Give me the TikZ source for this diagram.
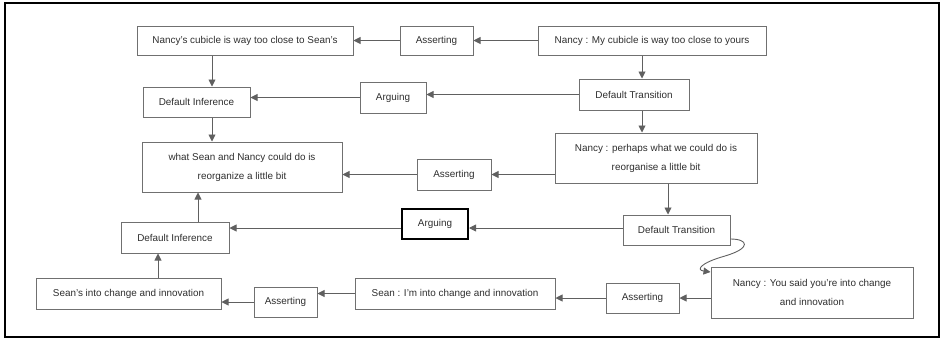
\documentclass[tikz,border=0pt]{standalone}
\usepackage{fontspec}
\setmainfont{Liberation Sans}
\usetikzlibrary{arrows.meta}
\definecolor{boxc}{HTML}{707070}
\definecolor{linec}{HTML}{606060}
\definecolor{txtc}{HTML}{2e2e2e}
\begin{document}
\begin{tikzpicture}[x=1pt,y=-1pt,
  box/.style={draw=boxc,line width=1pt,inner sep=0pt,align=center,text=txtc,
    font=\fontsize{9.9}{19}\selectfont},
  arr/.style={draw=linec,line width=0.9pt,-{Triangle[length=7pt,width=7pt]}}]
\useasboundingbox (0,0) rectangle (941,341);
\draw[line width=1.3pt] (5,3) rectangle (939,337);
% nodes
\node[box,minimum width=216pt,minimum height=29pt] (N1) at (245,40.5) {Nancy's cubicle is way too close to Sean's};
\node[box,minimum width=73pt,minimum height=29pt] (A1) at (436.5,40.5) {Asserting};
\node[box,minimum width=228pt,minimum height=29pt] (N0) at (652,40.5) {Nancy : My cubicle is way too close to yours};
\node[box,minimum width=107pt,minimum height=30pt] (DI1) at (196.5,102) {Default Inference};
\node[box,minimum width=66pt,minimum height=31pt] (Arg1) at (393,97.5) {Arguing};
\node[box,minimum width=110pt,minimum height=31pt] (DT1) at (634,94.5) {Default Transition};
\node[box,minimum width=200pt,minimum height=50pt] (W) at (242,167) {what Sean and Nancy could do is\\reorganize a little bit};
\node[box,minimum width=74pt,minimum height=31pt] (As2) at (454,174.5) {Asserting};
\node[box,minimum width=202pt,minimum height=50pt] (NP) at (656,158) {Nancy : perhaps what we could do is\\reorganise a little bit};
\node[box,draw=black,line width=2pt,minimum width=66pt,minimum height=30pt] (Arg2) at (435,224) {Arguing};
\node[box,minimum width=107pt,minimum height=30pt] (DT2) at (676.5,230) {Default Transition};
\node[box,minimum width=108pt,minimum height=31pt] (DI2) at (175,237.5) {Default Inference};
\node[box,minimum width=185pt,minimum height=31pt] (SI) at (128.5,293.5) {Sean's into change and innovation};
\node[box,minimum width=63pt,minimum height=30pt] (As3) at (285.5,302) {Asserting};
\node[box,minimum width=200pt,minimum height=31pt] (SS) at (455,293.5) {Sean : I'm into change and innovation};
\node[box,minimum width=73pt,minimum height=30pt] (As4) at (642.5,298) {Asserting};
\node[box,minimum width=202pt,minimum height=51pt] (NY) at (812,292.5) {Nancy : You said you're into change\\and innovation};
% helper coordinates
\coordinate (x212) at (212,0);
\coordinate (x198) at (198,0);
\coordinate (x158) at (158,0);
\coordinate (x642) at (642,0);
\coordinate (x668) at (668,0);
\coordinate (y228) at (0,228);
\coordinate (y298) at (0,298);
\coordinate (cs) at (DT2.east |- 0,239);
\coordinate (ct) at (NY.west |- 0,272);
% edges
\draw[arr] (N0.west) -- (N0.west -| A1.east);
\draw[arr] (A1.west) -- (A1.west -| N1.east);
\draw[arr] (x212 |- N1.south) -- (x212 |- DI1.north);
\draw[arr] (x212 |- DI1.south) -- (x212 |- W.north);
\draw[arr] (x642 |- N0.south) -- (x642 |- DT1.north);
\draw[arr] (DT1.west) -- (DT1.west -| Arg1.east);
\draw[arr] (Arg1.west) -- (Arg1.west -| DI1.east);
\draw[arr] (x642 |- DT1.south) -- (x642 |- NP.north);
\draw[arr] (NP.west |- As2.east) -- (As2.east);
\draw[arr] (As2.west) -- (As2.west -| W.east);
\draw[arr] (x668 |- NP.south) -- (x668 |- DT2.north);
\draw[arr] (DT2.west |- y228) -- (Arg2.east |- y228);
\draw[arr] (Arg2.west |- y228) -- (DI2.east |- y228);
\draw[arr] (x198 |- DI2.north) -- (x198 |- W.south);
\draw[arr] (cs) .. controls (748,239) and (752,248) .. (725,256) .. controls (700,263) and (696,270) .. (ct);
\draw[arr] (NY.west |- y298) -- (As4.east |- y298);
\draw[arr] (As4.west) -- (As4.west -| SS.east);
\draw[arr] (SS.west) -- (SS.west -| As3.east);
\draw[arr] (As3.west) -- (As3.west -| SI.east);
\draw[arr] (x158 |- SI.north) -- (x158 |- DI2.south);
\end{tikzpicture}
\end{document}
